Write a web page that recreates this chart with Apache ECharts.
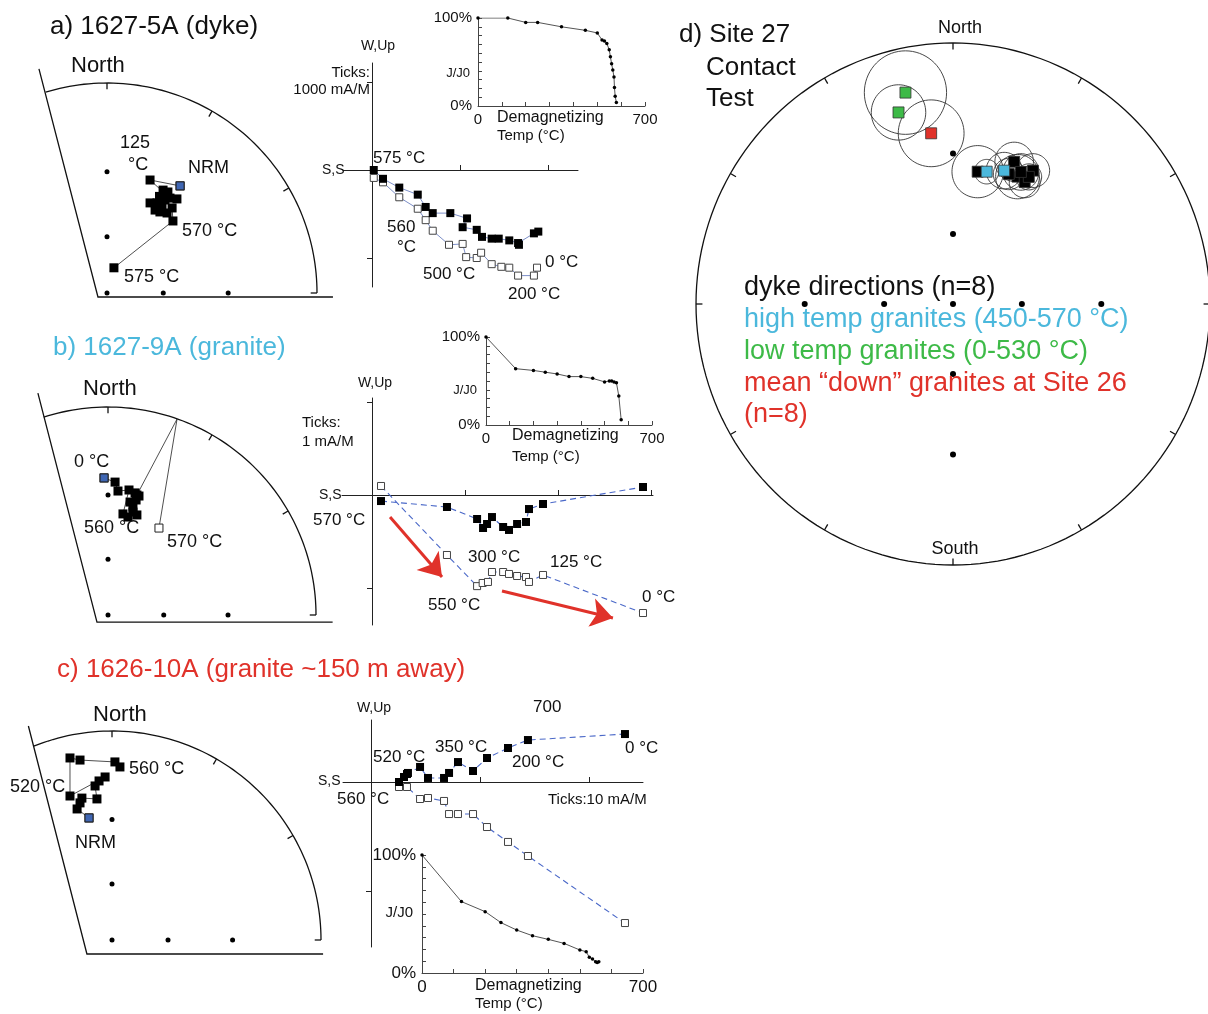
<!DOCTYPE html>
<html><head><meta charset="utf-8">
<script src="https://cdn.jsdelivr.net/npm/echarts@6/dist/echarts.min.js"></script>
<style>html,body{margin:0;padding:0;background:#fff}#c{width:1208px;height:1014px}</style>
</head><body><div id="c"></div>
<script>
// ================= DATA =================
// --- a) 1627-5A (dyke): stereonet directions (projected net coords x=E, y=N), in demag order
const netA_dirs = [[0.348,0.51],[0.205,0.538],[0.28,0.47],[0.25,0.46],[0.267,0.49],[0.29,0.481],[0.3,0.452],[0.333,0.448],[0.276,0.443],[0.238,0.429],[0.205,0.429],[0.229,0.395],[0.262,0.419],[0.252,0.386],[0.286,0.381],[0.31,0.405],[0.314,0.343],[0.033,0.12]];
// Zijderveld a (units of 1000 mA/m)
const zijA_horiz = [[0.02,0.0],[0.125,-0.10],[0.31,-0.20],[0.52,-0.28],[0.61,-0.42],[0.69,-0.49],[0.89,-0.49],[1.08,-0.55],[1.03,-0.65],[1.19,-0.68],[1.25,-0.76],[1.36,-0.78],[1.44,-0.78],[1.56,-0.80],[1.66,-0.83],[1.67,-0.85],[1.84,-0.72],[1.89,-0.70]];
const zijA_vert = [[0.02,-0.09],[0.125,-0.14],[0.31,-0.31],[0.52,-0.44],[0.61,-0.57],[0.69,-0.69],[0.875,-0.85],[1.03,-0.84],[1.07,-0.99],[1.19,-1.0],[1.24,-0.94],[1.36,-1.07],[1.47,-1.10],[1.56,-1.11],[1.66,-1.20],[1.84,-1.20],[1.875,-1.11]];
// Intensity a
const intA_temp = [0,125,200,250,350,450,500,520,530,540,550,555,560,565,570,572,575,580];
const intA_pct  = [100,100,95,95,90,86,83,75,74,71,64,56,48,41,33,21,11,4];

// --- b) 1627-9A (granite)
const netB_dirs = [[-0.019,0.659],[0.034,0.639],[0.048,0.596],[0.101,0.601],[0.072,0.486],[0.096,0.471],[0.12,0.495],[0.139,0.481],[0.12,0.519],[0.106,0.543],[0.135,0.553],[0.13,0.587],[0.149,0.572],[0.139,0.577]];
const netB_primitiveCross = [0.332,0.942];
const netB_upper = [[0.245,0.418]];
const zijB_horiz = [[0.097,-0.065],[0.806,-0.129],[1.13,-0.258],[1.194,-0.355],[1.237,-0.312],[1.29,-0.237],[1.41,-0.344],[1.473,-0.376],[1.56,-0.312],[1.656,-0.29],[1.688,-0.151],[1.839,-0.097],[2.914,0.086]];
const zijB_vert = [[0.097,0.097],[0.806,-0.645],[1.13,-0.98],[1.19,-0.946],[1.247,-0.935],[1.29,-0.828],[1.41,-0.828],[1.473,-0.849],[1.56,-0.871],[1.656,-0.882],[1.688,-0.935],[1.839,-0.86],[2.914,-1.269]];
const zijB_arrows = [[[0.194,-0.237],[0.753,-0.882]],[[1.398,-1.032],[2.591,-1.322]]];
const intB_temp = [0,125,200,250,300,350,400,450,500,520,530,540,550,560,570];
const intB_pct  = [100,64,62,60,58,55,55,53,49,50,50,49,48,33,6];

// --- c) 1626-10A (granite ~150 m away)
const netC_dirs = [[-0.11,0.584],[-0.167,0.627],[-0.153,0.656],[-0.144,0.679],[-0.072,0.675],[-0.081,0.737],[-0.062,0.761],[-0.033,0.78],[-0.201,0.689],[-0.201,0.871],[-0.153,0.861],[0.014,0.852],[0.038,0.828]];
const zijC_horiz = [[0.257,0],[0.303,0.046],[0.33,0.073],[0.339,0.083],[0.45,0.138],[0.523,0.037],[0.67,0.037],[0.716,0.083],[0.798,0.183],[0.936,0.101],[1.064,0.22],[1.257,0.312],[1.44,0.385],[2.33,0.44]];
const zijC_vert = [[0.257,-0.046],[0.33,-0.046],[0.45,-0.156],[0.523,-0.147],[0.67,-0.174],[0.716,-0.294],[0.798,-0.294],[0.936,-0.294],[1.064,-0.413],[1.257,-0.55],[1.44,-0.679],[2.33,-1.294]];
const intC_temp = [0,125,200,250,300,350,400,450,500,520,530,540,550,555,560];
const intC_pct  = [100,60.5,52,42.7,36.4,31.6,28.5,25.1,19.5,18.1,13.3,11.9,9.6,9,9.6];

// --- d) Site 27 contact test: [x, y, a95 radius] in net coords
const dDyke  = [[0.096,0.507,0.10],[0.238,0.545,0.075],[0.311,0.511,0.065],[0.251,0.488,0.085],[0.279,0.467,0.06],[0.295,0.487,0.05],[0.217,0.498,0.06],[0.264,0.506,0.07]];
const dHighT = [[0.131,0.507,0.047],[0.199,0.511,0.07]];
const dLowT  = [[-0.185,0.81,0.16],[-0.212,0.734,0.106]];
const dSite26 = [[-0.085,0.654,0.128]];

// ================= LAYOUT / STYLE =================
const FONT = '"Liberation Sans", Arial, Helvetica, sans-serif';
const CYAN = '#4bb8dc', GREEN = '#3dba47', RED = '#e0322a', NRMBLUE = '#3f66b3';
const SQ = 9;

const nets = [
  {cx:107, cy:293, R:210, apex:[-0.043,-0.019], left:[-0.324,1.067], right:[1.076,-0.019], a0:-17},
  {cx:108, cy:615, R:208, apex:[-0.053,-0.034], left:[-0.337,1.067], right:[1.08,-0.034], a0:-18},
  {cx:112, cy:940, R:209, apex:[-0.12,-0.067], left:[-0.4,1.024], right:[1.01,-0.067], a0:-22}
];
const zijs = [
  {cx:372, cy:170, unit:88, l:343, r:578, t:63, b:287, xt:[1,2], yt:[1,-1], dashed:false},
  {cx:372, cy:495, unit:93, l:342, r:653, t:398, b:625, xt:[1,2,3], yt:[1,-1], dashed:true},
  {cx:371, cy:782, unit:109, l:343, r:643, t:720, b:947, xt:[1,2], yt:[-1], dashed:true}
];
const ints = [
  {l:478, t:18, w:167, h:88, fs:15},
  {l:486, t:337, w:166, h:88, fs:15},
  {l:422, t:855, w:221, h:118, fs:17}
];
const netD = {cx:953, cy:304, Rx:257, Ry:261};

const grids = [], xAxes = [], yAxes = [], series = [];
const hidden = {show:false};
function hiddenAxis(gi, min, max){
  return {gridIndex:gi, type:'value', min, max, axisLine:hidden, axisTick:hidden, axisLabel:hidden, splitLine:hidden};
}
function arc(a0, a1, n){
  const p=[]; for(let i=0;i<=n;i++){const a=(a0+(a1-a0)*i/n)*Math.PI/180; p.push([Math.sin(a),Math.cos(a)]);} return p;
}
function circ(x,y,r){
  const p=[]; for(let i=0;i<=72;i++){const t=i/72*2*Math.PI; p.push([x+r*Math.cos(t), y+r*Math.sin(t)]);} return p;
}
function ticksOnPrimitive(azs, len){
  return azs.map(a=>{const t=a*Math.PI/180; return {coords:[[Math.sin(t),Math.cos(t)],[(1-len)*Math.sin(t),(1-len)*Math.cos(t)]]};});
}
const gridDots = [[0,0],[0,0.268],[0,0.577],[0.268,0],[0.577,0]];

// ---------- stereonets a,b,c ----------
nets.forEach((n,i)=>{
  const xmin=-0.5, xmax=1.15, ymin=-0.12, ymax=1.15;
  const gi = grids.length;
  grids.push({left:n.cx+xmin*n.R, top:n.cy-ymax*n.R, width:(xmax-xmin)*n.R, height:(ymax-ymin)*n.R});
  xAxes.push(hiddenAxis(gi,xmin,xmax)); yAxes.push(hiddenAxis(gi,ymin,ymax));
  series.push({type:'lines', coordinateSystem:'cartesian2d', xAxisIndex:gi, yAxisIndex:gi, polyline:true, silent:true, z:1, clip:false,
    lineStyle:{color:'#111', width:1.3, opacity:1},
    data:[{coords:arc(n.a0,90,80)},{coords:[n.left,n.apex,n.right]}].concat(ticksOnPrimitive([0,30,60,90],0.03))});
  series.push({type:'scatter', xAxisIndex:gi, yAxisIndex:gi, symbol:'circle', symbolSize:5, silent:true, z:2, itemStyle:{color:'#000', opacity:1}, data:gridDots});
});
// net a
series.push({type:'line', xAxisIndex:0, yAxisIndex:0, data:netA_dirs, symbol:'rect', symbolSize:SQ, z:3,
  lineStyle:{color:'#222', width:0.8}, itemStyle:{color:'#000'}});
series.push({type:'scatter', xAxisIndex:0, yAxisIndex:0, data:[netA_dirs[0]], symbol:'rect', symbolSize:SQ-1, z:4, itemStyle:{color:NRMBLUE, borderColor:'#222', borderWidth:1, opacity:1}});
// net b
series.push({type:'line', xAxisIndex:1, yAxisIndex:1, data:[netB_dirs[netB_dirs.length-1], netB_primitiveCross, netB_upper[0]], symbol:'none', z:3,
  lineStyle:{color:'#222', width:0.8}});
series.push({type:'line', xAxisIndex:1, yAxisIndex:1, data:netB_dirs, symbol:'rect', symbolSize:SQ, z:3,
  lineStyle:{color:'#222', width:0.8}, itemStyle:{color:'#000'}});
series.push({type:'scatter', xAxisIndex:1, yAxisIndex:1, data:netB_upper, symbol:'rect', symbolSize:SQ-1, z:4, itemStyle:{color:'#fff', borderColor:'#222', borderWidth:1, opacity:1}});
series.push({type:'scatter', xAxisIndex:1, yAxisIndex:1, data:[netB_dirs[0]], symbol:'rect', symbolSize:SQ-1, z:4, itemStyle:{color:NRMBLUE, borderColor:'#222', borderWidth:1, opacity:1}});
// net c
series.push({type:'line', xAxisIndex:2, yAxisIndex:2, data:netC_dirs, symbol:'rect', symbolSize:SQ, z:3,
  lineStyle:{color:'#222', width:0.8}, itemStyle:{color:'#000'}});
series.push({type:'scatter', xAxisIndex:2, yAxisIndex:2, data:[netC_dirs[0]], symbol:'rect', symbolSize:SQ-1, z:4, itemStyle:{color:NRMBLUE, borderColor:'#222', borderWidth:1, opacity:1}});

// ---------- Zijderveld a,b,c ----------
const zijData = [[zijA_horiz,zijA_vert],[zijB_horiz,zijB_vert],[zijC_horiz,zijC_vert]];
zijs.forEach((z,i)=>{
  const gi = grids.length;
  grids.push({left:z.l, top:z.t, width:z.r-z.l, height:z.b-z.t});
  const axLine = {show:true, onZero:true, lineStyle:{color:'#222', width:1}};
  xAxes.push({gridIndex:gi, type:'value', min:(z.l-z.cx)/z.unit, max:(z.r-z.cx)/z.unit, axisLine:axLine,
    axisTick:{show:true, customValues:z.xt, length:5, inside:true, lineStyle:{color:'#222'}}, axisLabel:hidden, splitLine:hidden});
  yAxes.push({gridIndex:gi, type:'value', min:(z.cy-z.b)/z.unit, max:(z.cy-z.t)/z.unit, axisLine:axLine,
    axisTick:{show:true, customValues:z.yt, length:5, inside:false, lineStyle:{color:'#222'}}, axisLabel:hidden, splitLine:hidden});
  const ls = z.dashed ? {color:'#4a68c8', width:1.1, type:[6,4]} : {color:'#7d8fc8', width:1};
  series.push({type:'line', xAxisIndex:gi, yAxisIndex:gi, data:zijData[i][1], symbol:'rect', symbolSize:7, z:3,
    lineStyle:ls, itemStyle:{color:'#fff', borderColor:'#444', borderWidth:1}});
  series.push({type:'line', xAxisIndex:gi, yAxisIndex:gi, data:zijData[i][0], symbol:'rect', symbolSize:8, z:4,
    lineStyle:ls, itemStyle:{color:'#000'}});
});
// red arrows on b
series.push({type:'lines', coordinateSystem:'cartesian2d', xAxisIndex:4, yAxisIndex:4, z:5, silent:true,
  symbol:['none','arrow'], symbolSize:[0,22], lineStyle:{color:RED, width:3, opacity:1},
  data:zijB_arrows.map(c=>({coords:c}))});

// ---------- Intensity insets ----------
const intData = [[intA_temp,intA_pct],[intB_temp,intB_pct],[intC_temp,intC_pct]];
ints.forEach((g,i)=>{
  const gi = grids.length;
  grids.push({left:g.l, top:g.t, width:g.w, height:g.h});
  xAxes.push({gridIndex:gi, type:'value', min:0, max:700, interval:100,
    axisLine:{show:true, onZero:false, lineStyle:{color:'#444', width:1}},
    axisTick:{show:true, inside:true, length:4, lineStyle:{color:'#444'}},
    axisLabel:{show:true, margin:6, fontFamily:FONT, fontSize:g.fs, color:'#111', formatter:v=> (v===0||v===700)? String(v):''},
    splitLine:hidden});
  yAxes.push({gridIndex:gi, type:'value', min:0, max:100, interval:10,
    axisLine:{show:true, onZero:false, lineStyle:{color:'#444', width:1}},
    axisTick:{show:true, inside:true, length:4, lineStyle:{color:'#444'}},
    axisLabel:{show:true, margin:6, fontFamily:FONT, fontSize:g.fs, color:'#111', formatter:v=> v===100?'100%':(v===0?'0%':'')},
    splitLine:hidden});
  series.push({type:'line', xAxisIndex:gi, yAxisIndex:gi, data:intData[i][0].map((t,k)=>[t,intData[i][1][k]]),
    symbol:'circle', symbolSize:3.5, lineStyle:{color:'#555', width:1}, itemStyle:{color:'#000'}, z:3});
});

// ---------- d) Site 27 ----------
{
  const xmin=-1.04, xmax=0.98, ymin=-1.05, ymax=1.05;
  const gi = grids.length;
  grids.push({left:netD.cx+xmin*netD.Rx, top:netD.cy-ymax*netD.Ry, width:(xmax-xmin)*netD.Rx, height:(ymax-ymin)*netD.Ry});
  xAxes.push(hiddenAxis(gi,xmin,xmax)); yAxes.push(hiddenAxis(gi,ymin,ymax));
  series.push({type:'lines', coordinateSystem:'cartesian2d', xAxisIndex:gi, yAxisIndex:gi, polyline:true, silent:true, z:1, clip:false,
    lineStyle:{color:'#111', width:1.3, opacity:1},
    data:[{coords:arc(0,360,180)}].concat(ticksOnPrimitive([0,30,60,90,120,150,180,210,240,270,300,330],0.025))});
  const dDots = [[0,0],[0,0.268],[0,0.577],[0,-0.268],[0,-0.577],[0.268,0],[0.577,0],[-0.268,0],[-0.577,0]];
  series.push({type:'scatter', xAxisIndex:gi, yAxisIndex:gi, symbol:'circle', symbolSize:6, silent:true, z:2, itemStyle:{color:'#000', opacity:1}, data:dDots});
  const all = dLowT.concat(dSite26, dDyke, dHighT);
  series.push({type:'lines', coordinateSystem:'cartesian2d', xAxisIndex:gi, yAxisIndex:gi, polyline:true, silent:true, z:2, clip:false,
    lineStyle:{color:'#333', width:0.9, opacity:1}, data:all.map(p=>({coords:circ(p[0],p[1],p[2])}))});
  const sq = (d,c)=>({type:'scatter', xAxisIndex:gi, yAxisIndex:gi, symbol:'rect', symbolSize:11, z:4,
    itemStyle:{color:c, borderColor:'#333', borderWidth:0.8, opacity:1}, data:d.map(p=>[p[0],p[1]])});
  series.push(sq(dDyke,'#000'), sq(dHighT,CYAN), sq(dLowT,GREEN), sq(dSite26,RED));
}

// ---------- texts ----------
const T = (text,x,y,size,opts={}) => ({type:'text', x, y, z:100, silent:true,
  style:{text, fill:opts.color||'#111', font:`${size}px ${FONT}`, textAlign:opts.align||'left', textVerticalAlign:'middle'}});
const texts = [
  // a
  T('a) 1627-5A (dyke)',50,27,26), T('North',71,66,22),
  T('125',120,143,18), T('°C',128,165,18), T('NRM',188,168,18), T('570 °C',182,231,18), T('575 °C',124,277,18),
  T('W,Up',378,46,14,{align:'center'}), T('Ticks:',370,73,15,{align:'right'}), T('1000 mA/M',370,90,15,{align:'right'}),
  T('S,S',322,170,14), T('575 °C',373,158,17), T('560',387,227,17), T('°C',397,247,17), T('500 °C',423,274,17),
  T('0 °C',545,262,17), T('200 °C',508,294,17),
  T('J/J0',470,73,13,{align:'right'}), T('Demagnetizing',497,118,16), T('Temp (°C)',497,136,15),
  // b
  T('b) 1627-9A (granite)',53,348,26,{color:CYAN}), T('North',83,389,22),
  T('0 °C',74,462,18), T('560 °C',84,528,18), T('570 °C',167,542,18),
  T('W,Up',375,383,14,{align:'center'}), T('Ticks:',302,423,15), T('1 mA/M',302,442,15),
  T('S,S',319,495,14), T('570 °C',313,520,17), T('300 °C',468,557,17), T('125 °C',550,562,17),
  T('550 °C',428,605,17), T('0 °C',642,597,17),
  T('J/J0',477,390,13,{align:'right'}), T('Demagnetizing',512,436,16), T('Temp (°C)',512,457,15),
  // c
  T('c) 1626-10A (granite ~150 m away)',57,670,26,{color:RED}), T('North',93,715,22),
  T('520 °C',10,787,18), T('560 °C',129,769,18), T('NRM',75,843,18),
  T('W,Up',374,708,14,{align:'center'}), T('700',533,707,17),
  T('S,S',318,781,14), T('560 °C',337,799,17), T('520 °C',373,757,17), T('350 °C',435,747,17),
  T('200 °C',512,762,17), T('0 °C',625,748,17), T('Ticks:10 mA/M',548,800,15),
  T('J/J0',413,913,15,{align:'right'}), T('Demagnetizing',475,986,16), T('Temp (°C)',475,1004,15),
  // d
  T('d) Site 27',679,35,26), T('Contact',706,68,26), T('Test',706,99,26),
  T('North',960,28,18,{align:'center'}), T('South',955,549,18,{align:'center'}),
  T('dyke directions (n=8)',744,288,27), T('high temp granites (450-570 °C)',744,320,27,{color:CYAN}),
  T('low temp granites (0-530 °C)',744,352,27,{color:GREEN}), T('mean \u201cdown\u201d granites at Site 26',744,384,27,{color:RED}),
  T('(n=8)',744,415,27,{color:RED})
];

const chart = echarts.init(document.getElementById('c'), null, {renderer:'canvas'});
chart.setOption({
  backgroundColor:'#fff', animation:false,
  grid:grids, xAxis:xAxes, yAxis:yAxes, series, graphic:texts
});
</script></body></html>
